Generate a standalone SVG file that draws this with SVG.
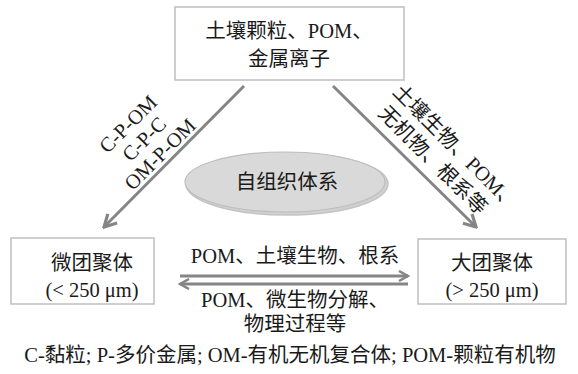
<svg xmlns="http://www.w3.org/2000/svg" width="578" height="374" viewBox="0 0 578 374">
<style>
.box{fill:#fff;stroke:#bfbfbf;stroke-width:1.5}
.t{font-family:"Liberation Serif","Noto Sans CJK SC",serif;font-size:20.5px;fill:#1a1a1a;text-anchor:middle}
.ar{stroke:#858585;stroke-width:3;fill:none}
</style>
<defs>
<marker id="head" viewBox="0 0 12 12" refX="10" refY="6" markerWidth="12" markerHeight="12" markerUnits="userSpaceOnUse" orient="auto">
<path d="M1,1 L10,6 L1,11" fill="none" stroke="#858585" stroke-width="2.5"/>
</marker>
<marker id="headBig" viewBox="0 0 16 16" refX="14" refY="8" markerWidth="16" markerHeight="16" markerUnits="userSpaceOnUse" orient="auto">
<path d="M2,1.5 L14,8 L2,14.5" fill="none" stroke="#858585" stroke-width="3.2"/>
</marker>
</defs>
<g id="connectors">
<line class="ar" x1="244" y1="86" x2="104" y2="227" marker-end="url(#headBig)"/>
<line class="ar" x1="333" y1="86" x2="476" y2="227" marker-end="url(#headBig)"/>
<line class="ar" x1="180" y1="276" x2="408" y2="276" marker-end="url(#head)"/>
<line class="ar" x1="408" y1="284" x2="180" y2="284" marker-end="url(#head)"/>
<text class="t" transform="translate(128,124) rotate(-45)" dy="7">C-P-OM</text>
<text class="t" transform="translate(144,139) rotate(-45)" dy="7">C-P-C</text>
<text class="t" transform="translate(160,154) rotate(-45)" dy="7">OM-P-OM</text>
<text class="t" transform="translate(456,147) rotate(45)" dy="7">土壤生物、POM、</text>
<text class="t" transform="translate(433,160) rotate(45)" dy="7">无机物、根系等</text>
<text class="t" x="295" y="263">POM、土壤生物、根系</text>
<text class="t" x="295" y="307">POM、微生物分解、</text>
<text class="t" x="295" y="331">物理过程等</text>
</g>
<g id="top">
<rect class="box" x="175" y="7" width="229" height="73"/>
<text class="t" x="289" y="38">土壤颗粒、POM、</text>
<text class="t" x="289" y="66">金属离子</text>
</g>
<g id="center">
<ellipse cx="287" cy="184" rx="101" ry="31" fill="#d0d0d0" stroke="#c4c4c4" stroke-width="1.5"/>
<ellipse cx="285" cy="182" rx="100" ry="30" fill="#d9d9d9" stroke="#bdbdbd" stroke-width="1.2"/>
<text class="t" x="287" y="189">自组织体系</text>
</g>
<g id="micro">
<rect class="box" x="11" y="238" width="143" height="66"/>
<text class="t" x="92" y="270">微团聚体</text>
<text class="t" x="92" y="297">(&lt; 250 μm)</text>
</g>
<g id="macro">
<rect class="box" x="418" y="239" width="148" height="65"/>
<text class="t" x="492" y="270">大团聚体</text>
<text class="t" x="492" y="297">(&gt; 250 μm)</text>
</g>
<text class="t" x="290" y="362">C-黏粒; P-多价金属; OM-有机无机复合体; POM-颗粒有机物</text>
</svg>
